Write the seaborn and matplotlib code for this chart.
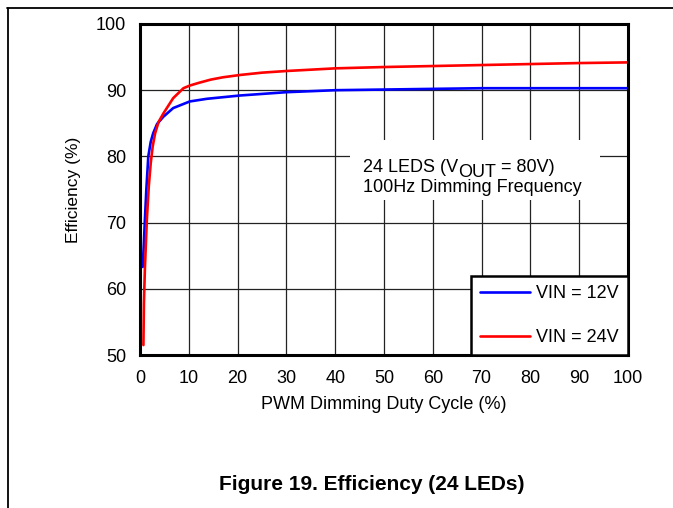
import matplotlib
matplotlib.use("Agg")
import matplotlib.pyplot as plt
import seaborn as sns
import pandas as pd
from matplotlib.lines import Line2D
from matplotlib.patches import Rectangle

# PWM duty cycle (%) and efficiency (%)
duty_12v = [0.55, 0.8, 1.0, 1.3, 1.7, 2.2, 2.7, 3.5, 4.8, 6.8, 10.2, 13.7, 20.5, 30, 40, 50, 60, 70, 80, 90, 100]
eff_12v = [63.3, 67.0, 70.4, 75.0, 80.0, 82.2, 83.5, 84.9, 86.0, 87.3, 88.3, 88.7, 89.2, 89.7, 90.0, 90.1, 90.2, 90.3, 90.3, 90.3, 90.3]

duty_24v = [0.7, 0.8, 1.0, 1.4, 1.8, 2.2, 2.6, 3.1, 3.8, 4.8, 6.8, 8.9, 10.2, 12.0, 14.5, 17.0, 20.5, 25, 30, 40, 50, 60, 70, 80, 90, 100]
eff_24v = [51.5, 57.8, 63.0, 70.4, 75.5, 79.0, 81.5, 83.5, 85.2, 86.5, 88.8, 90.3, 90.7, 91.1, 91.6, 91.95, 92.3, 92.65, 92.9, 93.3, 93.5, 93.65, 93.8, 93.95, 94.1, 94.2]

series_labels = ["VIN = 12V", "VIN = 24V"]
series_colors = ["#0000ff", "#ff0000"]

df = pd.concat([
    pd.DataFrame({"duty": duty_12v, "eff": eff_12v, "vin": series_labels[0]}),
    pd.DataFrame({"duty": duty_24v, "eff": eff_24v, "vin": series_labels[1]}),
])

sns.set_style("white")
plt.rcParams["font.family"] = ["Liberation Sans", "DejaVu Sans"]
for k in ["text.color", "axes.labelcolor", "xtick.color", "ytick.color"]:
    plt.rcParams[k] = "black"

fig = plt.figure(figsize=(6.73, 5.08), dpi=100)
ax = fig.add_axes([140 / 673, 1 - 355 / 508, 488 / 673, 331 / 508])

sns.lineplot(data=df, x="duty", y="eff", hue="vin", palette=series_colors,
             linewidth=1.9, sort=False, estimator=None, ax=ax)

ax.set_xlim(0, 100)
ax.set_ylim(50, 100)
ax.set_xticks(range(0, 101, 10))
ax.set_yticks(range(50, 101, 10))
ax.grid(True, color="#222222", linewidth=0.9)
ax.tick_params(length=0, labelsize=13)
ax.tick_params(axis="y", pad=10)
ax.tick_params(axis="x", pad=11)
for s in ax.spines.values():
    s.set_visible(True)
    s.set_color("black")
    s.set_linewidth(2.2)

ax.set_xlabel("PWM Dimming Duty Cycle (%)", fontsize=13, labelpad=6)
ax.set_ylabel("Efficiency (%)", fontsize=12.5, labelpad=11)

leg = ax.legend(loc="lower right", fontsize=13, frameon=True, fancybox=False,
                borderaxespad=0, handlelength=2.75, labelspacing=1.5,
                borderpad=0.5, handletextpad=0.35)
leg.get_frame().set_edgecolor("black")
leg.get_frame().set_linewidth(1.8)
leg.get_frame().set_alpha(1)
for h in leg.get_lines():
    h.set_linewidth(1.9)

# white box behind the note, hiding the grid
ax.add_patch(Rectangle((43.0, 73.4), 51.3, 9.1, facecolor="white", edgecolor="none", zorder=3))
t1 = ax.text(45.7, 77.7, "24 LEDS (V", fontsize=13, ha="left", va="baseline", zorder=5)
t2 = ax.annotate("OUT", xy=(1, 0), xycoords=t1, xytext=(0, -3.6), textcoords="offset points",
                 fontsize=13, ha="left", va="bottom", zorder=5)
ax.annotate(" = 80V)", xy=(1, 0), xycoords=t2, xytext=(0, 3.6), textcoords="offset points",
            fontsize=13, ha="left", va="bottom", zorder=5)
ax.text(45.7, 74.6, "100Hz Dimming Frequency", fontsize=13, ha="left", va="baseline", zorder=5)

fig.text(372 / 673, 1 - 485 / 508, "Figure 19. Efficiency (24 LEDs)",
         fontsize=15, fontweight="bold", ha="center", va="center")

# page frame lines (top and left)
fig.add_artist(Line2D([7 / 673, 1], [1 - 8 / 508, 1 - 8 / 508], color="black", linewidth=1.3))
fig.add_artist(Line2D([8 / 673, 8 / 673], [0, 1 - 8 / 508], color="black", linewidth=1.3))

fig.savefig("out.png", dpi=100)
